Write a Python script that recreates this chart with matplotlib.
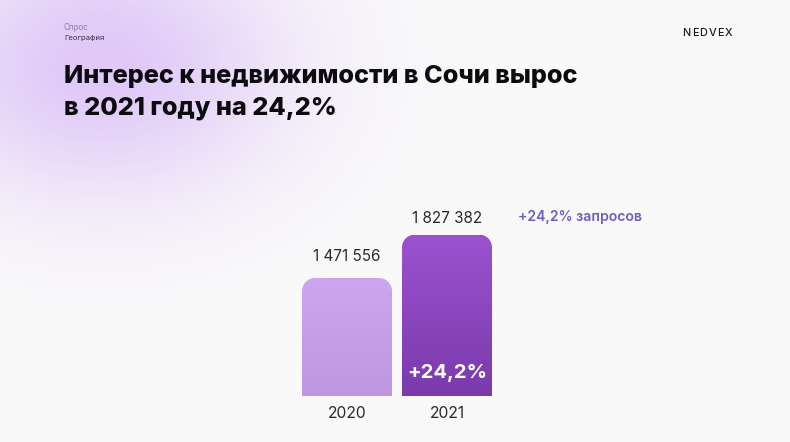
import matplotlib
matplotlib.use("Agg")
import matplotlib.pyplot as plt
import numpy as np
from matplotlib.path import Path
from matplotlib.patches import PathPatch
from matplotlib.colors import LinearSegmentedColormap

plt.rcParams['font.family'] = ['Inter', 'DejaVu Sans']

# dados
years = ["2020", "2021"]
values = [1471556, 1827382]
value_labels = ["1 471 556", "1 827 382"]
growth_label = "+24,2%"
side_label = "+24,2% запросов"
title_lines = ["Интерес к недвижимости в Сочи вырос", "в 2021 году на 24,2%"]
brand = "NEDVEX"

W, H = 790, 442
fig = plt.figure(figsize=(W / 100, H / 100), dpi=100)

# fundo: mancha lilás no canto superior esquerdo
bg = fig.add_axes([0, 0, 1, 1])
yy, xx = np.mgrid[0:H, 0:W]
d2 = ((xx - 100) / 130.0) ** 2 + ((yy - 65) / 95.0) ** 2
glow = np.exp(-d2 / 2)
base = np.array([250, 250, 250]) / 255
tint = np.array([224, 200, 248]) / 255
img = base + (tint - base) * glow[..., None]
bg.imshow(img, extent=(0, W, H, 0), aspect="auto")
bg.set_xlim(0, W)
bg.set_ylim(H, 0)
bg.axis("off")

bg.text(64, 27, "Спрос", fontsize=5.8, color="#8f7fa8", va="center")
bg.text(64, 38, "География", fontsize=5.6, color="#3a3548", va="center")

# logo com letras espaçadas
renderer = fig.canvas.get_renderer()
x_pos = 682.5
for ch in brand:
    t = bg.text(x_pos, 32.5, ch, fontsize=7.8, color="#1c1c22", va="center", ha="left",
                fontweight="medium")
    x_pos += t.get_window_extent(renderer).width + 1.1

for y, line in zip([77, 108], title_lines):
    bg.text(64, y, line, fontsize=18.2, fontweight="heavy", color="#0b0b10", va="center")
bg.text(518.5, 217.5, side_label, fontsize=10.1, fontweight="semibold", color="#6f5cc4", va="center")

# barras (eixo não começa em zero, como no original)
baseline = 502000
per_px = 8180.0
ax = fig.add_axes([302 / W, (H - 396.5) / H, 190 / W, (396.5 - 234.5) / H])
ax.axis("off")


def rounded_top(x0, x1, top, r):
    ry = r * per_px
    k = 0.45
    verts = [(x0, baseline), (x0, top - ry),
             (x0, top - ry * k), (x0 + r * k, top), (x0 + r, top),
             (x1 - r, top),
             (x1 - r * k, top), (x1, top - ry * k), (x1, top - ry),
             (x1, baseline), (x0, baseline)]
    codes = [Path.MOVETO, Path.LINETO,
             Path.CURVE4, Path.CURVE4, Path.CURVE4,
             Path.LINETO,
             Path.CURVE4, Path.CURVE4, Path.CURVE4,
             Path.LINETO, Path.CLOSEPOLY]
    return Path(verts, codes)


colors = [("#cea6f0", "#bf96e0"), ("#9c52d0", "#7a3aac")]
lefts = [0, 100]
for left, val, (c_top, c_bot) in zip(lefts, values, colors):
    cmap = LinearSegmentedColormap.from_list("g", [c_top, c_bot])
    im = ax.imshow(np.linspace(0, 1, 256).reshape(-1, 1), cmap=cmap, aspect="auto",
                   extent=(left, left + 90, baseline, val), origin="upper", zorder=2)
    clip = PathPatch(rounded_top(left, left + 90, val, 13), transform=ax.transData,
                     facecolor="none", edgecolor="none")
    ax.add_patch(clip)
    im.set_clip_path(clip)
ax.set_xlim(0, 190)
ax.set_ylim(baseline, baseline + 162 * per_px)

for left, val, lab, yr, off in zip(lefts, values, value_labels, years, [21, 15.5]):
    cx = left + 45
    ax.annotate(lab, (cx, val), xytext=(0, off), textcoords="offset pixels",
                ha="center", va="center", fontsize=11, color="#2a2a2e", annotation_clip=False)
    ax.annotate(yr, (cx, baseline), xytext=(0, -17), textcoords="offset pixels", ha="center",
                va="center", fontsize=11.3, color="#2a2a2e", annotation_clip=False)

ax.annotate(growth_label, (145, baseline), xytext=(0, 24), textcoords="offset pixels",
            ha="center", va="center", fontsize=14.6, fontweight="bold", color="white")

fig.savefig("out.png", dpi=100)
